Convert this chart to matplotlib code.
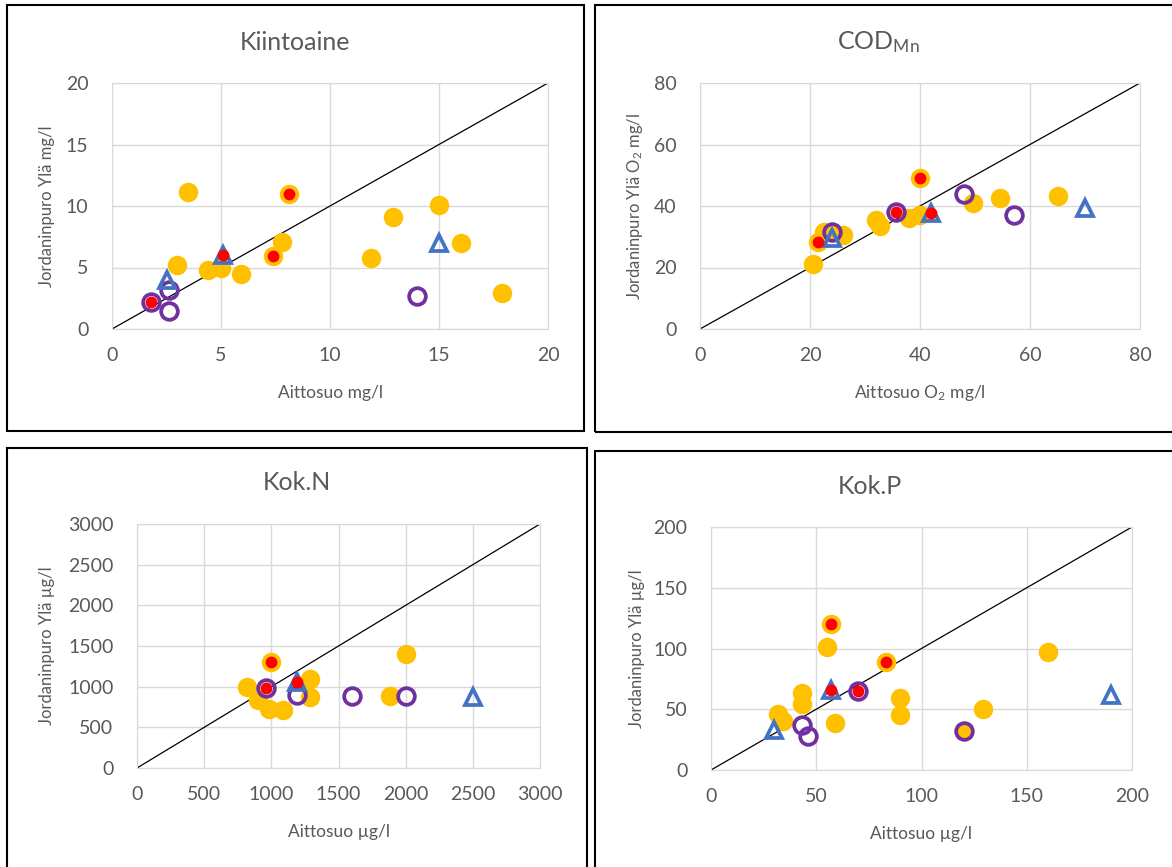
import matplotlib
matplotlib.use("Agg")
import matplotlib.pyplot as plt
from matplotlib.patches import Rectangle

plt.rcParams['font.family'] = ['Lato', 'DejaVu Sans']
plt.rcParams['mathtext.fontset'] = 'custom'
plt.rcParams['mathtext.rm'] = 'Lato'
plt.rcParams['mathtext.it'] = 'Lato:italic'

W, H = 1172, 867

# Kiintoaine, mg/l  (x = Aittosuo, y = Jordaninpuro Ylä)
kiin_orange = [(3.5, 11.1), (8.1, 11.0), (15.0, 10.1), (12.9, 9.1), (7.8, 7.1), (16.0, 7.0),
               (7.4, 5.9), (11.9, 5.8), (3.0, 5.2), (4.4, 4.8), (5.0, 5.0), (5.9, 4.5), (17.9, 2.9)]
kiin_purple = [(2.6, 3.2), (2.6, 1.5), (14.0, 2.7), (1.8, 2.2)]
kiin_blue = [(2.5, 4.0), (5.1, 6.0), (15.0, 7.0)]
kiin_red = [(1.8, 2.2), (8.1, 11.0), (7.4, 5.9), (5.1, 6.0)]

# COD_Mn, O2 mg/l
cod_orange = [(40, 49), (49.6, 41), (54.5, 42.5), (65, 43.4), (38, 36), (40, 37), (32, 35.5),
              (32.7, 33.5), (24, 31.5), (26, 30.5), (22.5, 31.5), (21.5, 28.2), (20.5, 21)]
cod_purple = [(48, 44), (57, 37), (35.6, 38), (24, 31.5)]
cod_blue = [(70, 39.5), (42, 37.6), (24, 29.5)]
cod_red = [(40, 49), (35.6, 38), (42, 37.6), (21.5, 28.2)]

# Kok.N, ug/l
n_orange = [(1000, 1300), (2000, 1400), (820, 1000), (1290, 1100), (1290, 870), (1880, 880),
            (900, 830), (980, 720), (1090, 710)]
n_purple = [(960, 980), (1190, 900), (1600, 890), (2000, 890)]
n_blue = [(1190, 1060), (2500, 870)]
n_red = [(1000, 1300), (960, 980), (1190, 1060)]

# Kok.P, ug/l
p_orange = [(57, 120), (55, 101), (83, 89), (160, 97), (43, 63), (43, 54), (90, 59), (90, 45),
            (129, 50), (32, 46), (34, 40), (59, 39), (120, 32)]
p_purple = [(70, 65), (43, 37), (46, 28), (120, 32)]
p_blue = [(57, 66), (190, 62), (30, 33)]
p_red = [(57, 120), (83, 89), (57, 66), (70, 65)]

GRAY = '#595959'
GRID = '#D9D9D9'


def fx(x):
    return x / W


def fy(y):
    return 1 - y / H


fig = plt.figure(figsize=(W / 100, H / 100), dpi=100)

# panel frames (pixel boxes: left, top, right, bottom)
for l, t, r, b in [(7, 5, 584, 431), (595, 5, 1185, 432), (7, 448, 587, 885), (595, 451, 1185, 885)]:
    fig.add_artist(Rectangle((fx(l), fy(b)), fx(r - l), (b - t) / H, transform=fig.transFigure,
                             fill=False, ec='black', lw=1.5))


def panel(box, vmax, step, orange, purple, blue, red, title, tx, xlabel, ylabel, ylx):
    l, t, r, b = box
    ax = fig.add_axes([fx(l), fy(b), fx(r - l), (b - t) / H])
    ax.set_xlim(0, vmax)
    ax.set_ylim(0, vmax)
    ticks = list(range(0, vmax + 1, step))
    ax.set_xticks(ticks)
    ax.set_yticks(ticks)
    ax.grid(True, color=GRID, lw=1)
    ax.set_axisbelow(True)
    for s in ax.spines.values():
        s.set_color(GRID)
    ax.tick_params(length=0, labelsize=14, labelcolor=GRAY)
    ax.tick_params(axis='y', pad=17)
    ax.tick_params(axis='x', pad=13)

    ax.plot([0, vmax], [0, vmax], color='black', lw=0.9, zorder=2)
    ax.plot(*zip(*orange), ls='none', marker='o', ms=13, mfc='#FFC000', mec='#FFC000', zorder=3)
    ax.plot(*zip(*purple), ls='none', marker='o', ms=12, mfc='none', mec='#7030A0', mew=2.7, zorder=4)
    ax.plot(*zip(*blue), ls='none', marker='^', ms=11.5, mfc='none', mec='#4472C4', mew=2.7, zorder=5)
    ax.plot(*zip(*red), ls='none', marker='o', ms=7.5, mfc='#FF0000', mec='#FF0000', zorder=6)

    fig.text(fx(tx), fy(t - 41), title, ha='center', va='center', fontsize=18, color=GRAY)
    fig.text(fx((l + r) / 2), fy(b + 64), xlabel, ha='center', va='center', fontsize=12.5, color=GRAY)
    fig.text(fx(ylx), fy((t + b) / 2), ylabel, ha='center', va='center', rotation=90,
             fontsize=12, color=GRAY)
    return ax


panel((112, 83, 548, 329), 20, 5, kiin_orange, kiin_purple, kiin_blue, kiin_red,
      'Kiintoaine', 295, 'Aittosuo mg/l', 'Jordaninpuro Ylä mg/l', 47)
panel((700, 83, 1140, 329), 80, 20, cod_orange, cod_purple, cod_blue, cod_red,
      'COD$_{\\mathrm{Mn}}$', 878, 'Aittosuo O$_2$ mg/l', 'Jordaninpuro Ylä O$_2$ mg/l', 635)
panel((137, 524, 540, 768), 3000, 500, n_orange, n_purple, n_blue, n_red,
      'Kok.N', 297, 'Aittosuo µg/l', 'Jordaninpuro Ylä µg/l', 47)
panel((711, 527, 1132, 770), 200, 50, p_orange, p_purple, p_blue, p_red,
      'Kok.P', 870, 'Aittosuo µg/l', 'Jordaninpuro Ylä µg/l', 637)

fig.savefig('out.png', dpi=100)
